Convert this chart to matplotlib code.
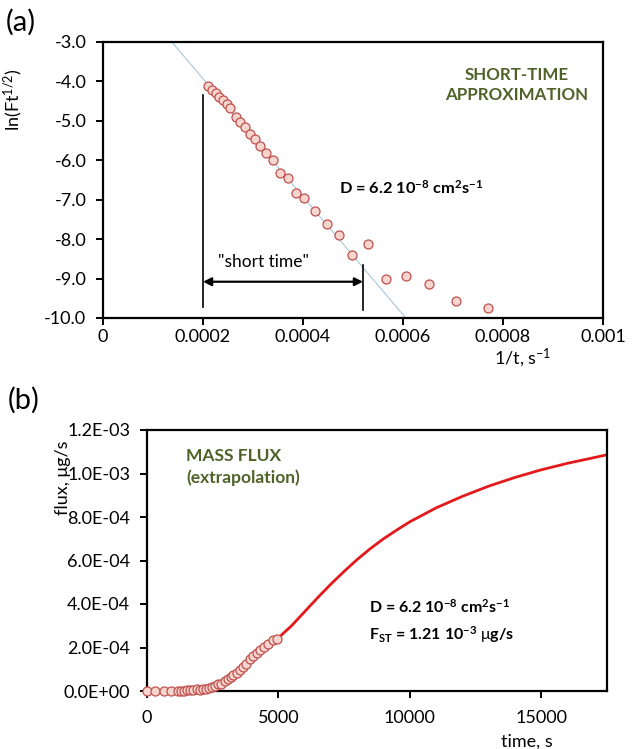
import matplotlib
matplotlib.use("Agg")
import matplotlib.pyplot as plt
from matplotlib.ticker import FixedLocator, FuncFormatter
import numpy as np

plt.rcParams['font.family'] = ['Lato', 'DejaVu Sans']
plt.rcParams['mathtext.fontset'] = 'custom'
plt.rcParams['mathtext.rm'] = 'Lato'
plt.rcParams['mathtext.bf'] = 'Lato:bold'
plt.rcParams['mathtext.it'] = 'Lato:italic'

# ---- panel (a): ln(F t^1/2) vs 1/t ----
inv_t = [0.000209, 0.000217, 0.000225, 0.000232, 0.000239, 0.000247, 0.000254,
         0.000265, 0.000274, 0.000284, 0.000293, 0.000304, 0.000314, 0.000326,
         0.000339, 0.000354, 0.000369, 0.000385, 0.000402, 0.000423, 0.000447,
         0.000471, 0.000497, 0.000529, 0.000566, 0.000605, 0.000652, 0.000705,
         0.000769]
ln_ft = [-4.12, -4.22, -4.30, -4.39, -4.47, -4.57, -4.68,
         -4.89, -5.02, -5.15, -5.33, -5.47, -5.64, -5.82,
         -5.99, -6.31, -6.46, -6.84, -6.95, -7.29, -7.62,
         -7.90, -8.40, -8.12, -9.01, -8.94, -9.14, -9.57,
         -9.74]
fit_intercept = -0.94
fit_slope = -14960.0
short_start = 0.0002
short_end = 0.00052

# ---- panel (b): flux vs time ----
time_pts = [0, 315, 630, 910, 1190, 1300, 1418, 1534, 1653, 1767, 1890, 2012,
            2123, 2237, 2364, 2488, 2597, 2710, 2825, 2950, 3067, 3185, 3289,
            3413, 3521, 3650, 3774, 3937, 4049, 4184, 4310, 4444, 4608, 4785, 4960]
flux_pts = [0.0, 0.0, 0.0, 0.0, 1.0e-6, 1.6e-6, 1.9e-6, 2.7e-6, 3.2e-6, 2.9e-6,
            6.9e-6, 5.0e-6, 8.0e-6, 1.04e-5, 1.40e-5, 1.92e-5, 2.10e-5, 3.00e-5,
            3.42e-5, 4.60e-5, 5.36e-5, 6.29e-5, 7.35e-5, 8.29e-5, 9.77e-5,
            1.093e-4, 1.224e-4, 1.479e-4, 1.628e-4, 1.770e-4, 1.889e-4, 2.035e-4,
            2.165e-4, 2.349e-4, 2.40e-4]
time_curve = [4960, 5500, 6000, 6500, 7000, 7500, 8000, 8500, 9000, 9500, 10000,
              11000, 12000, 13000, 14000, 15000, 16000, 17000, 17500]
flux_curve = [2.40e-4, 3.0e-4, 3.65e-4, 4.3e-4, 4.92e-4, 5.5e-4, 6.05e-4, 6.55e-4,
              7.0e-4, 7.4e-4, 7.78e-4, 8.42e-4, 8.95e-4, 9.42e-4, 9.82e-4,
              1.017e-3, 1.047e-3, 1.073e-3, 1.086e-3]

green = '#4f6228'
mface = '#f6d5cf'
medge = '#c0504d'
tick_fs = 13
label_fs = 13

fig = plt.figure(figsize=(6.33, 7.49), dpi=100)
ax1 = fig.add_axes([103/633, 1-318/749, 500/633, 276/749])
ax2 = fig.add_axes([147/633, 1-691/749, 460/633, 261/749])

for ax in (ax1, ax2):
    for s in ax.spines.values():
        s.set_linewidth(1.6)
    ax.tick_params(direction='out', length=5, width=1.4, labelsize=tick_fs, colors='black')
    ax.tick_params(axis='y', pad=7)

# (a)
xfit = np.array([0.0, 0.001])
ax1.plot(xfit, fit_intercept + fit_slope*xfit, color='#a9c8dc', lw=0.8, zorder=1)
ax1.plot(inv_t, ln_ft, 'o', ms=6.5, mfc=mface, mec=medge, mew=0.9, zorder=3)
ax1.set_xlim(0, 0.001)
ax1.set_ylim(-10, -3)
ax1.xaxis.set_major_locator(FixedLocator([0, 0.0002, 0.0004, 0.0006, 0.0008, 0.001]))
ax1.xaxis.set_major_formatter(FuncFormatter(lambda v, p: '%g' % round(v, 6)))
ax1.yaxis.set_major_locator(FixedLocator(np.arange(-10, -2.9, 1.0)))
ax1.yaxis.set_major_formatter(FuncFormatter(lambda v, p: '%.1f' % v))
ax1.tick_params(axis='x', pad=3)

ax1.plot([short_start, short_start], [-4.34, -9.72], color='black', lw=1.2)
ax1.plot([short_end, short_end], [-8.66, -9.8], color='black', lw=1.2)
ax1.annotate('', xy=(short_start, -9.08), xytext=(short_end, -9.08),
             arrowprops=dict(arrowstyle='<|-|>', color='black', lw=1.6,
                             mutation_scale=12, shrinkA=0, shrinkB=0))
ax1.text(0.000322, -8.59, '"short time"', ha='center', va='center', fontsize=12.5)
ax1.text(0.000828, -4.09, 'SHORT-TIME\nAPPROXIMATION', color=green,
         fontweight='bold', fontsize=12.2, ha='center', va='center', linespacing=1.35)
ax1.text(0.000472, -6.70, r'D = 6.2 10$^{\mathbf{-8}}$ cm$^{\mathbf{2}}$s$^{\mathbf{-1}}$',
         fontweight='bold', fontsize=11.8, ha='left', va='center')

ax1.set_ylabel(r'ln(Ft$^{1/2}$)', fontsize=label_fs)
ax1.yaxis.set_label_coords(-0.155, 0.79)
ax1.set_xlabel(r'1/t, s$^{-1}$', fontsize=label_fs)
ax1.xaxis.set_label_coords(0.84, -0.103)

# (b)
ax2.plot(time_curve, flux_curve, color='#e31a1c', lw=2, zorder=2)
ax2.plot(time_pts, flux_pts, 'o', ms=6.5, mfc=mface, mec=medge, mew=0.9, zorder=3,
         clip_on=False)
ax2.set_xlim(0, 17500)
ax2.set_ylim(0, 1.2e-3)
ax2.xaxis.set_major_locator(FixedLocator([0, 5000, 10000, 15000]))
ax2.xaxis.set_major_formatter(FuncFormatter(lambda v, p: '%d' % v))
ax2.yaxis.set_major_locator(FixedLocator(np.linspace(0, 1.2e-3, 7)))
ax2.yaxis.set_major_formatter(FuncFormatter(lambda v, p: '%.1E' % v))
ax2.tick_params(axis='x', pad=9)

ax2.text(1500, 1.03e-3, 'MASS FLUX\n(extrapolation)', color=green,
         fontweight='bold', fontsize=12.5, ha='left', va='center', linespacing=1.35)
ax2.text(8430, 3.2e-4,
         r'D = 6.2 10$^{\mathbf{-8}}$ cm$^{\mathbf{2}}$s$^{\mathbf{-1}}$' + '\n' +
         r'F$_{\mathbf{ST}}$ = 1.21 10$^{\mathbf{-3}}$ $\mathrm{\mu}$g/s',
         fontweight='bold', fontsize=11.5, ha='left', va='center', linespacing=1.5)

ax2.set_ylabel('flux, μg/s', fontsize=label_fs)
ax2.yaxis.set_label_coords(-0.165, 0.816)
ax2.set_xlabel('time, s', fontsize=label_fs)
ax2.xaxis.set_label_coords(0.826, -0.162)

fig.text(6/633, 1-22/749, '(a)', fontsize=21, ha='left', va='center')
fig.text(8/633, 1-400/749, '(b)', fontsize=21, ha='left', va='center')

fig.savefig('out.png', dpi=100)
